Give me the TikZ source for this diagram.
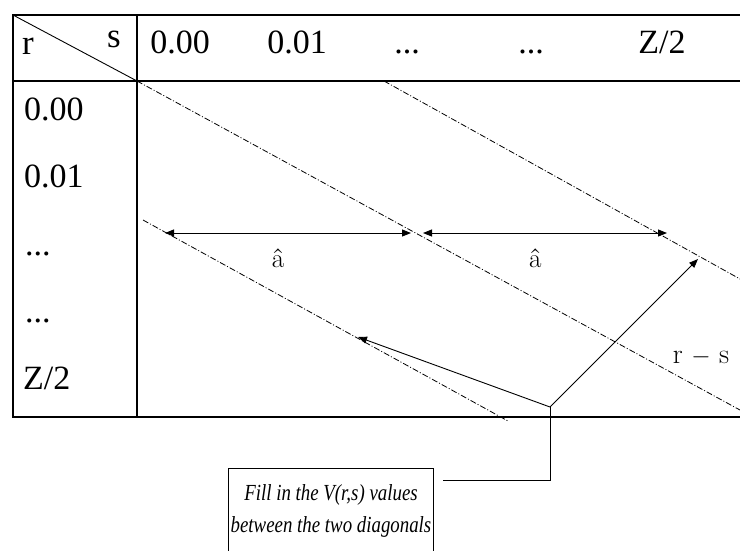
\documentclass[tikz,border=0pt]{standalone}
\usepackage{fontspec}
\setmainfont{Liberation Serif}
\newfontfamily\lmfont{Latin Modern Roman}
\newfontfamily\notefont[FakeStretch=0.82]{Liberation Serif}
\usetikzlibrary{arrows.meta,calc,positioning}

\begin{document}
\begin{tikzpicture}[x=1pt, y=-1pt,
  frame/.style={line width=1.8pt},
  rule/.style={line width=1.2pt},
  diag/.style={line width=0.8pt, dash pattern=on 6pt off 2pt on 1pt off 2pt},
  arr/.style={-{Triangle[length=9pt,width=7pt]}, line width=0.9pt},
  dim/.style={{Triangle[length=9pt,width=7pt]}-{Triangle[length=9pt,width=7pt]}, line width=0.9pt},
  cell/.style={font=\fontsize{34}{36}\selectfont, inner sep=0pt, anchor=base west},
  head/.style={font=\fontsize{34}{36}\selectfont, inner sep=0pt, anchor=base},
  hatlbl/.style={font=\lmfont\fontsize{27}{30}\selectfont, inner sep=0pt},
  notebox/.style={draw, line width=1pt, minimum width=205pt, minimum height=84pt,
    inner sep=0pt, align=center, font=\notefont\fontsize{23}{32}\selectfont\itshape},
]
\useasboundingbox (0,0) rectangle (740,550);

% table
\draw[frame] (740,15) -- (13,15) -- (13,417) -- (740,417);
\draw[rule] (13,81) -- (740,81);
\draw[rule] (137,15) -- (137,417);
\coordinate (origin) at (13,15);
\coordinate (corner) at (137,81);
\draw[line width=0.9pt] (origin) -- (corner);

% header
\node[cell, font=\fontsize{35}{38}\selectfont] (rlbl) at (22,54) {r};
\node[head, font=\fontsize{35}{38}\selectfont, anchor=base east] (slbl) at (121,47) {s};
\node[head] (s0) at (180,53) {0.00};
\node[head] (s1) at (297,53) {0.01};
\node[head] (s2) at (407,53) {...};
\node[head] (s3) at (531,53) {...};
\node[head] (s4) at (662,53) {Z/2};

% rows
\node[cell] (r0) at (24,120) {0.00};
\node[cell] (r1) at (24,187) {0.01};
\node[cell] (r2) at (25,255) {...};
\node[cell] (r3) at (25,322) {...};
\node[cell] (r4) at (23,389) {Z/2};

% diagonals
\coordinate (diagAend) at (740,410);
\coordinate (diagBbeg) at (384,81);
\coordinate (diagBend) at (740,279);
\coordinate (diagCbeg) at (143,220);
\coordinate (diagCend) at (508,421);
\draw[diag] (corner) -- (diagAend);
\draw[diag] (diagBbeg) -- (diagBend);
\draw[diag] (diagCbeg) -- (diagCend);

% widths
\coordinate (dimAl) at (165,233);
\coordinate (dimAr) at (411,233);
\coordinate (dimBl) at (423,233);
\coordinate (dimBr) at (667,233);
\draw[dim] (dimAl) -- node[hatlbl, pos=0.46, below=15pt] (hatA) {â} (dimAr);
\draw[dim] (dimBl) -- node[hatlbl, pos=0.46, below=15pt] (hatB) {â} (dimBr);

\node[hatlbl, font=\lmfont\fontsize{28}{30}\selectfont] (rsdiff) at (701,357) {r $-$ s};

% callout
\node[notebox, anchor=north west] (note) at (228,468)
  {Fill in the V(r,s) values\\between the two diagonals};
\coordinate (hub) at (550,407);
\coordinate (tail) at ($(note.north east)+(9,12)$);
\coordinate (tipB) at (698,259);
\coordinate (tipC) at (358,337);
\draw[line width=0.9pt] (tail) -| (hub);
\draw[arr] (hub) -- (tipB);
\draw[arr] (hub) -- (tipC);
\end{tikzpicture}
\end{document}
